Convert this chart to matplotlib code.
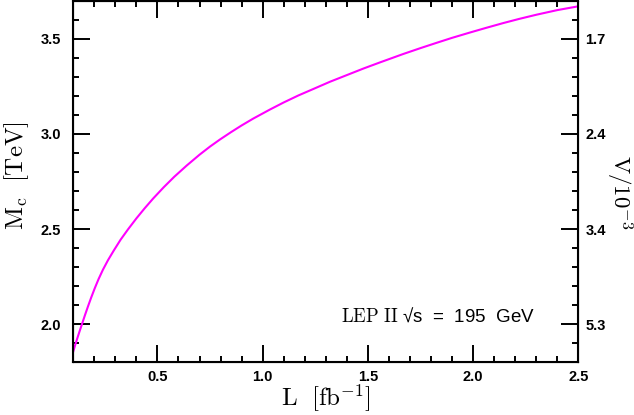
import numpy as np
import matplotlib
matplotlib.use("Agg")
import matplotlib.pyplot as plt
from matplotlib.ticker import MultipleLocator

# Luminosity (fb^-1) and reach in M_c (TeV)
lumi = [0.100, 0.110, 0.120, 0.130, 0.143, 0.155, 0.170, 0.185, 0.202, 0.220,
        0.241, 0.265, 0.292, 0.325, 0.360, 0.400, 0.440, 0.480, 0.530, 0.580,
        0.639, 0.700, 0.750, 0.797, 0.850, 0.900, 0.955, 1.035, 1.100, 1.170,
        1.241, 1.320, 1.400, 1.480, 1.558, 1.668, 1.750, 1.827, 1.900, 1.985,
        2.060, 2.144, 2.220, 2.302, 2.400, 2.500]
mc_reach = [1.856, 1.893, 1.928, 1.962, 2.005, 2.045, 2.093, 2.139, 2.188, 2.236,
            2.286, 2.336, 2.386, 2.444, 2.498, 2.556, 2.610, 2.661, 2.720, 2.775,
            2.834, 2.891, 2.934, 2.971, 3.010, 3.045, 3.081, 3.129, 3.166, 3.203,
            3.237, 3.275, 3.310, 3.345, 3.377, 3.421, 3.452, 3.480, 3.506, 3.534,
            3.558, 3.584, 3.606, 3.628, 3.652, 3.672]

# right axis: V/10^-3 labels at the M_c major ticks
right_ticks = [3.5, 3.0, 2.5, 2.0]
right_labels = ['1.7', '2.4', '3.4', '5.3']
x_ticks = [0.5, 1.0, 1.5, 2.0, 2.5]
y_ticks = [2.0, 2.5, 3.0, 3.5]

plt.rcParams['mathtext.fontset'] = 'cm'
tick_font = {'family': 'Liberation Sans', 'weight': 'bold', 'size': 10.5}

fig = plt.figure(figsize=(6.34, 4.15), dpi=100)
ax = fig.add_axes([0.1156, 0.1277, 0.7965, 0.8699])

ax.plot(lumi, mc_reach, color='#ff00ff', lw=1.5)
ax.set_xlim(0.1, 2.5)
ax.set_ylim(1.8, 3.7)

ax.set_xticks(x_ticks)
ax.set_xticklabels(['%.1f' % v for v in x_ticks], fontdict=tick_font)
ax.set_yticks(y_ticks)
ax.set_yticklabels(['%.1f' % v for v in y_ticks], fontdict=tick_font)
ax.xaxis.set_minor_locator(MultipleLocator(0.1))
ax.yaxis.set_minor_locator(MultipleLocator(0.1))
ax.tick_params(which='major', direction='in', length=12, width=1.4, top=True)
ax.tick_params(which='minor', direction='in', length=4.5, width=1.4, top=True)
ax.tick_params(axis='x', pad=6)
ax.tick_params(axis='y', pad=9)
for s in ax.spines.values():
    s.set_linewidth(1.5)

ax2 = ax.twinx()
ax2.set_ylim(ax.get_ylim())
ax2.set_yticks(right_ticks)
ax2.set_yticklabels(right_labels, fontdict=tick_font)
ax2.yaxis.set_minor_locator(MultipleLocator(0.1))
ax2.tick_params(which='major', direction='in', length=12, width=1.4, pad=5)
ax2.tick_params(which='minor', direction='in', length=4.5, width=1.4)
ax.tick_params(axis='y', right=False)

# axis titles placed by hand
fig.text(0.514, 0.040, r'$\mathrm{L\ \ [fb^{-1}]}$', fontsize=18,
         ha='center', va='center')
fig.text(0.026, 0.576, r'$\mathrm{M_c\ \ [TeV]}$', fontsize=18,
         ha='center', va='center', rotation=90)
fig.text(0.9765, 0.537, r'$\mathrm{V/10^{-3}}$', fontsize=16.5,
         ha='center', va='center', rotation=-90)

ax.text(0.530, 0.127, r'$\mathrm{LEP\ II}$ ' + '\u221as  =  195  GeV',
        transform=ax.transAxes, ha='left', va='center', fontsize=13.5,
        family=['Liberation Sans', 'DejaVu Sans'])

fig.savefig('out.png', dpi=100)
